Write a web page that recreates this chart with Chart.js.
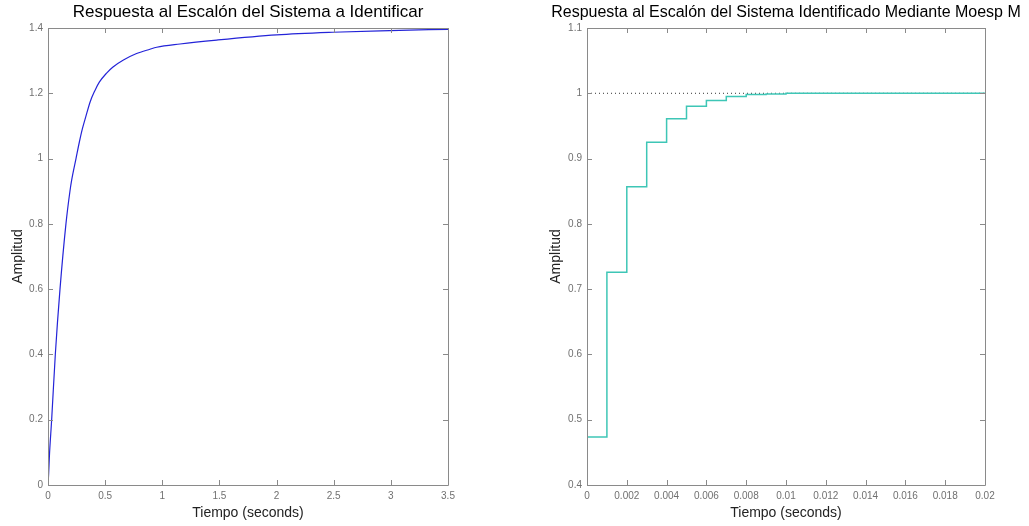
<!DOCTYPE html>
<html>
<head>
<meta charset="utf-8">
<script src="https://cdn.jsdelivr.net/npm/chart.js@4"></script>
<style>
html,body{margin:0;padding:0;background:#fff;}
#wrap{position:relative;width:1029px;height:526px;overflow:hidden;}
.box{position:absolute;top:0;height:526px;}
</style>
</head>
<body>
<div id="wrap">
  <div class="box" style="left:0;width:515px;"><canvas id="c1"></canvas></div>
  <div class="box" style="left:543px;width:486px;"><canvas id="c2"></canvas></div>
</div>
<script>
// ---- Left chart data (step response of system to identify) ----
const leftTitle = "Respuesta al Escalón del Sistema a Identificar";
const leftTime = [0, 0.006, 0.012, 0.032, 0.064, 0.105, 0.157, 0.192, 0.207, 0.245, 0.274, 0.30, 0.332, 0.37, 0.41, 0.449, 0.513, 0.566, 0.66, 0.77, 0.892, 0.951, 1.155, 1.476, 2.0, 2.49, 2.99, 3.5];
const leftAmp  = [0, 0.037, 0.087, 0.2, 0.4, 0.6, 0.8, 0.9, 0.934, 1.0, 1.05, 1.09, 1.13, 1.175, 1.208, 1.234, 1.262, 1.28, 1.302, 1.321, 1.335, 1.341, 1.351, 1.363, 1.379, 1.387, 1.392, 1.396];
const leftXTicks = [0, 0.5, 1, 1.5, 2, 2.5, 3, 3.5];
const leftXLabels = ["0", "0.5", "1", "1.5", "2", "2.5", "3", "3.5"];
const leftYTicks = [0, 0.2, 0.4, 0.6, 0.8, 1, 1.2, 1.4];
const leftYLabels = ["0", "0.2", "0.4", "0.6", "0.8", "1", "1.2", "1.4"];

// ---- Right chart data (step response of identified system, discrete) ----
const rightTitle = "Respuesta al Escalón del Sistema Identificado Mediante Moesp M";
const rightTime = [0, 0.001, 0.002, 0.003, 0.004, 0.005, 0.006, 0.007, 0.008, 0.009, 0.010, 0.011, 0.012, 0.013, 0.014, 0.015, 0.016, 0.017, 0.018, 0.019, 0.020];
const rightAmp  = [0.4735, 0.726, 0.857, 0.925, 0.961, 0.980, 0.989, 0.995, 0.998, 0.999, 1.0, 1.0, 1.0, 1.0, 1.0, 1.0, 1.0, 1.0, 1.0, 1.0, 1.0];
const rightRefTime = [0, 0.02];
const rightRefAmp = [1, 1];
const rightXTicks = [0, 0.002, 0.004, 0.006, 0.008, 0.01, 0.012, 0.014, 0.016, 0.018, 0.02];
const rightXLabels = ["0", "0.002", "0.004", "0.006", "0.008", "0.01", "0.012", "0.014", "0.016", "0.018", "0.02"];
const rightYTicks = [0.4, 0.5, 0.6, 0.7, 0.8, 0.9, 1, 1.1];
const rightYLabels = ["0.4", "0.5", "0.6", "0.7", "0.8", "0.9", "1", "1.1"];

const xLabel = "Tiempo (seconds)";
const yLabel = "Amplitud";

const FONT = "'Liberation Sans', Arial, Helvetica, sans-serif";
const AXIS_GRAY = '#8a8a8a';
const TICK_GRAY = '#707070';

// MATLAB-like box with inward ticks on all four sides
const matlabBox = {
  id: 'matlabBox',
  afterDatasetsDraw(chart) {
    const {ctx, chartArea: a, scales} = chart;
    ctx.save();
    ctx.strokeStyle = AXIS_GRAY;
    ctx.lineWidth = 1;
    ctx.beginPath();
    ctx.rect(Math.round(a.left) + 0.5, Math.round(a.top) + 0.5, Math.round(a.right - a.left), Math.round(a.bottom - a.top));
    ctx.stroke();
    const L = 5;
    ctx.beginPath();
    scales.x.ticks.forEach(t => {
      const px = Math.round(scales.x.getPixelForValue(t.value)) + 0.5;
      ctx.moveTo(px, a.bottom); ctx.lineTo(px, a.bottom - L);
      ctx.moveTo(px, a.top); ctx.lineTo(px, a.top + L);
    });
    scales.y.ticks.forEach(t => {
      const py = Math.round(scales.y.getPixelForValue(t.value)) + 0.5;
      ctx.moveTo(a.left, py); ctx.lineTo(a.left + L, py);
      ctx.moveTo(a.right, py); ctx.lineTo(a.right - L, py);
    });
    ctx.stroke();
    ctx.restore();
  }
};

function makeChart(id, cfg) {
  const xTicks = cfg.xTicks, yTicks = cfg.yTicks;
  const titleLH = cfg.titleSize * 1.2;
  return new Chart(document.getElementById(id), {
    type: 'line',
    data: { datasets: cfg.datasets },
    options: {
      responsive: true,
      maintainAspectRatio: false,
      animation: false,
      events: [],
      layout: { padding: 0 },
      plugins: {
        legend: { display: false },
        tooltip: { enabled: false },
        title: {
          display: true,
          text: cfg.title,
          fullSize: cfg.titleFull,
          color: '#000',
          font: { family: FONT, size: cfg.titleSize, weight: 'normal', lineHeight: 1.2 },
          padding: { top: 12.5 - titleLH / 2, bottom: 28 - (12.5 + titleLH / 2) }
        }
      },
      scales: {
        x: {
          type: 'linear',
          min: xTicks[0], max: xTicks[xTicks.length - 1],
          grid: { display: false, drawTicks: false },
          border: { display: false },
          afterBuildTicks: s => { s.ticks = xTicks.map(v => ({ value: v })); },
          afterFit: s => { s.height = 41; },
          ticks: {
            color: TICK_GRAY, padding: 5, maxRotation: 0, autoSkip: false,
            font: { family: FONT, size: 10 },
            callback: (v, i) => cfg.xLabels[i]
          },
          title: {
            display: true, text: xLabel, color: '#222',
            font: { family: FONT, size: 14 },
            padding: { top: 0, bottom: 4 }
          }
        },
        y: {
          type: 'linear',
          min: yTicks[0], max: yTicks[yTicks.length - 1],
          grid: { display: false, drawTicks: false },
          border: { display: false },
          afterBuildTicks: s => { s.ticks = yTicks.map(v => ({ value: v })); },
          afterFit: s => { s.width = cfg.yWidth; },
          ticks: {
            color: TICK_GRAY, padding: 5, autoSkip: false,
            font: { family: FONT, size: 10 },
            callback: (v, i) => cfg.yLabels[i]
          },
          title: {
            display: true, text: yLabel, color: '#222',
            font: { family: FONT, size: 14 },
            padding: { top: cfg.yTitlePad, bottom: 0 }
          }
        },
        yRight: {
          type: 'linear',
          position: 'right',
          min: yTicks[0], max: yTicks[yTicks.length - 1],
          grid: { display: false, drawTicks: false },
          border: { display: false },
          ticks: { display: false },
          afterFit: s => { s.width = cfg.rightWidth; }
        }
      }
    },
    plugins: [matlabBox]
  });
}

makeChart('c1', {
  title: leftTitle, titleFull: false, titleSize: 17,
  rightWidth: 67, yWidth: 48, yTitlePad: 9.6,
  xTicks: leftXTicks, xLabels: leftXLabels,
  yTicks: leftYTicks, yLabels: leftYLabels,
  datasets: [{
    data: leftTime.map((t, i) => ({ x: t, y: leftAmp[i] })),
    borderColor: '#2424d8',
    borderWidth: 1.2,
    pointRadius: 0,
    cubicInterpolationMode: 'monotone',
    fill: false
  }]
});

makeChart('c2', {
  title: rightTitle, titleFull: true, titleSize: 16,
  rightWidth: 44, yWidth: 44, yTitlePad: 4.6,
  xTicks: rightXTicks, xLabels: rightXLabels,
  yTicks: rightYTicks, yLabels: rightYLabels,
  datasets: [{
    data: rightTime.map((t, i) => ({ x: t, y: rightAmp[i] })),
    borderColor: '#3ec6b6',
    borderWidth: 1.5,
    pointRadius: 0,
    stepped: 'before',
    fill: false
  }, {
    data: rightRefTime.map((t, i) => ({ x: t, y: rightRefAmp[i] })),
    borderColor: '#333333',
    borderWidth: 1,
    borderDash: [1, 3],
    pointRadius: 0,
    fill: false
  }]
});
</script>
</body>
</html>
